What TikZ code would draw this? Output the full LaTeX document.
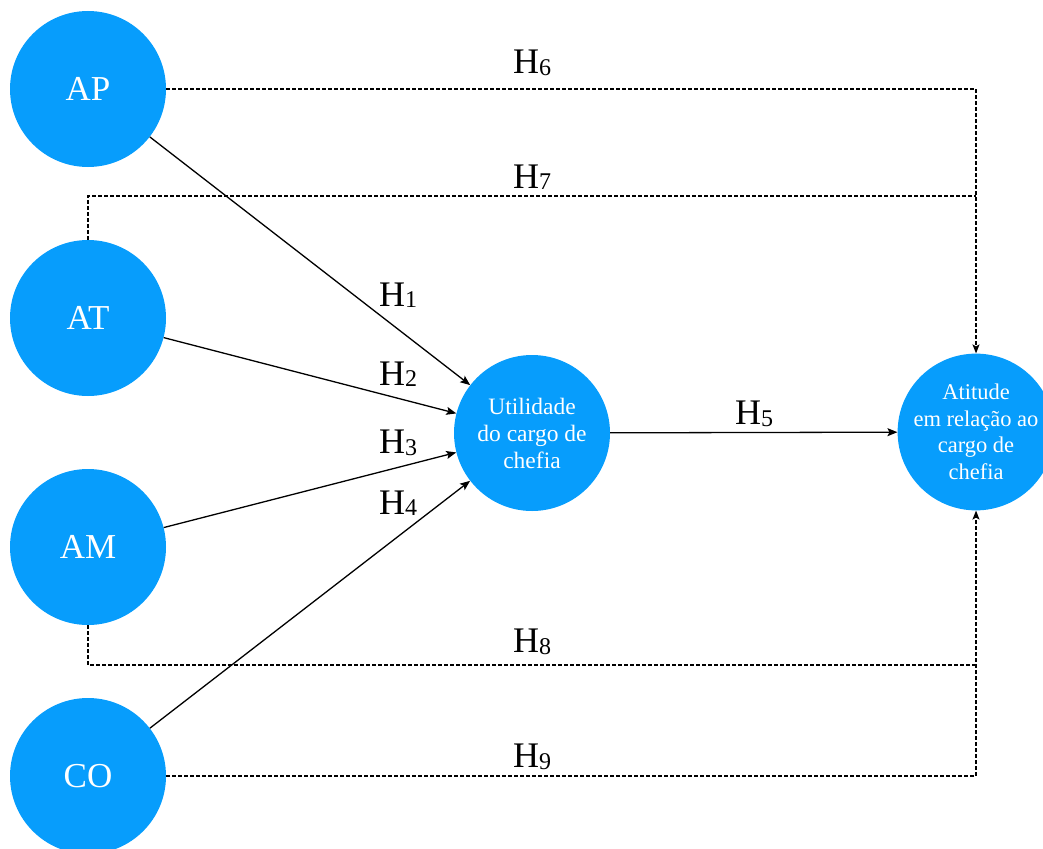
\documentclass[tikz,border=0pt]{standalone}
\usepackage{fontspec}
\setmainfont{Liberation Serif}
\usetikzlibrary{arrows.meta}
\definecolor{bubble}{HTML}{079DFC}
\newcommand{\hyp}[1]{H\lower1.5pt\hbox{\fontsize{24}{24}\selectfont #1}}
\tikzset{
  construct/.style={circle, fill=bubble, draw=none, minimum size=156pt, inner sep=0pt,
    text=white, align=center},
  bigtext/.style={font=\fontsize{35}{38}\selectfont},
  smalltext/.style={font=\fontsize{23.5}{27}\selectfont},
  outtext/.style={font=\fontsize{22.5}{26.5}\selectfont},
  path/.style={line width=1.3pt, -{Stealth[length=10pt,width=8pt,inset=2pt]}},
  dotted path/.style={line width=1.3pt, dash pattern=on 3.5pt off 2.5pt},
  hlabel/.style={font=\fontsize{36}{40}\selectfont, inner sep=0pt},
}
\begin{document}
\begin{tikzpicture}[x=1pt,y=-1pt]
  \useasboundingbox (0,0) rectangle (1043,848);

  % exogenous constructs
  \node[construct, bigtext] (ap) at (88,89)  {AP};
  \node[construct, bigtext] (at) at (88,318) {AT};
  \node[construct, bigtext] (am) at (88,547) {AM};
  \node[construct, bigtext] (co) at (88,776) {CO};

  % mediator and outcome
  \node[construct, smalltext] (ut) at (532,433) {Utilidade\\do cargo de\\chefia};
  \node[construct, outtext, minimum size=154pt] (att) at (976,432) {Atitude\\em relação ao\\cargo de\\chefia};

  % direct paths into the mediator
  \draw[path] (ap) -- (ut);
  \draw[path] (at) -- (ut);
  \draw[path] (am) -- (ut);
  \draw[path] (co) -- (ut);
  \draw[path] (ut) -- (att);

  % dotted direct paths to the outcome
  \coordinate (h7end) at (976,196);
  \coordinate (h8end) at (976,665);
  \draw[dotted path, -{Stealth[length=9pt,width=7pt,inset=2pt]}] (ap.east) -| (att.north);
  \draw[dotted path] (at.north) |- (h7end);
  \draw[dotted path] (am.south) |- (h8end);
  \draw[dotted path, -{Stealth[length=9pt,width=7pt,inset=2pt]}] (co.east) -| (att.south);

  % hypothesis labels
  \node[hlabel] (l1) at (398,295) {\hyp{1}};
  \node[hlabel] (l2) at (398,374) {\hyp{2}};
  \node[hlabel] (l3) at (398,443) {\hyp{3}};
  \node[hlabel] (l4) at (398,503) {\hyp{4}};
  \node[hlabel] (l5) at (754,414) {\hyp{5}};
  \node[hlabel] (l6) at (532,63)  {\hyp{6}};
  \node[hlabel] (l7) at (532,177) {\hyp{7}};
  \node[hlabel] (l8) at (532,642) {\hyp{8}};
  \node[hlabel] (l9) at (532,757) {\hyp{9}};
\end{tikzpicture}
\end{document}
